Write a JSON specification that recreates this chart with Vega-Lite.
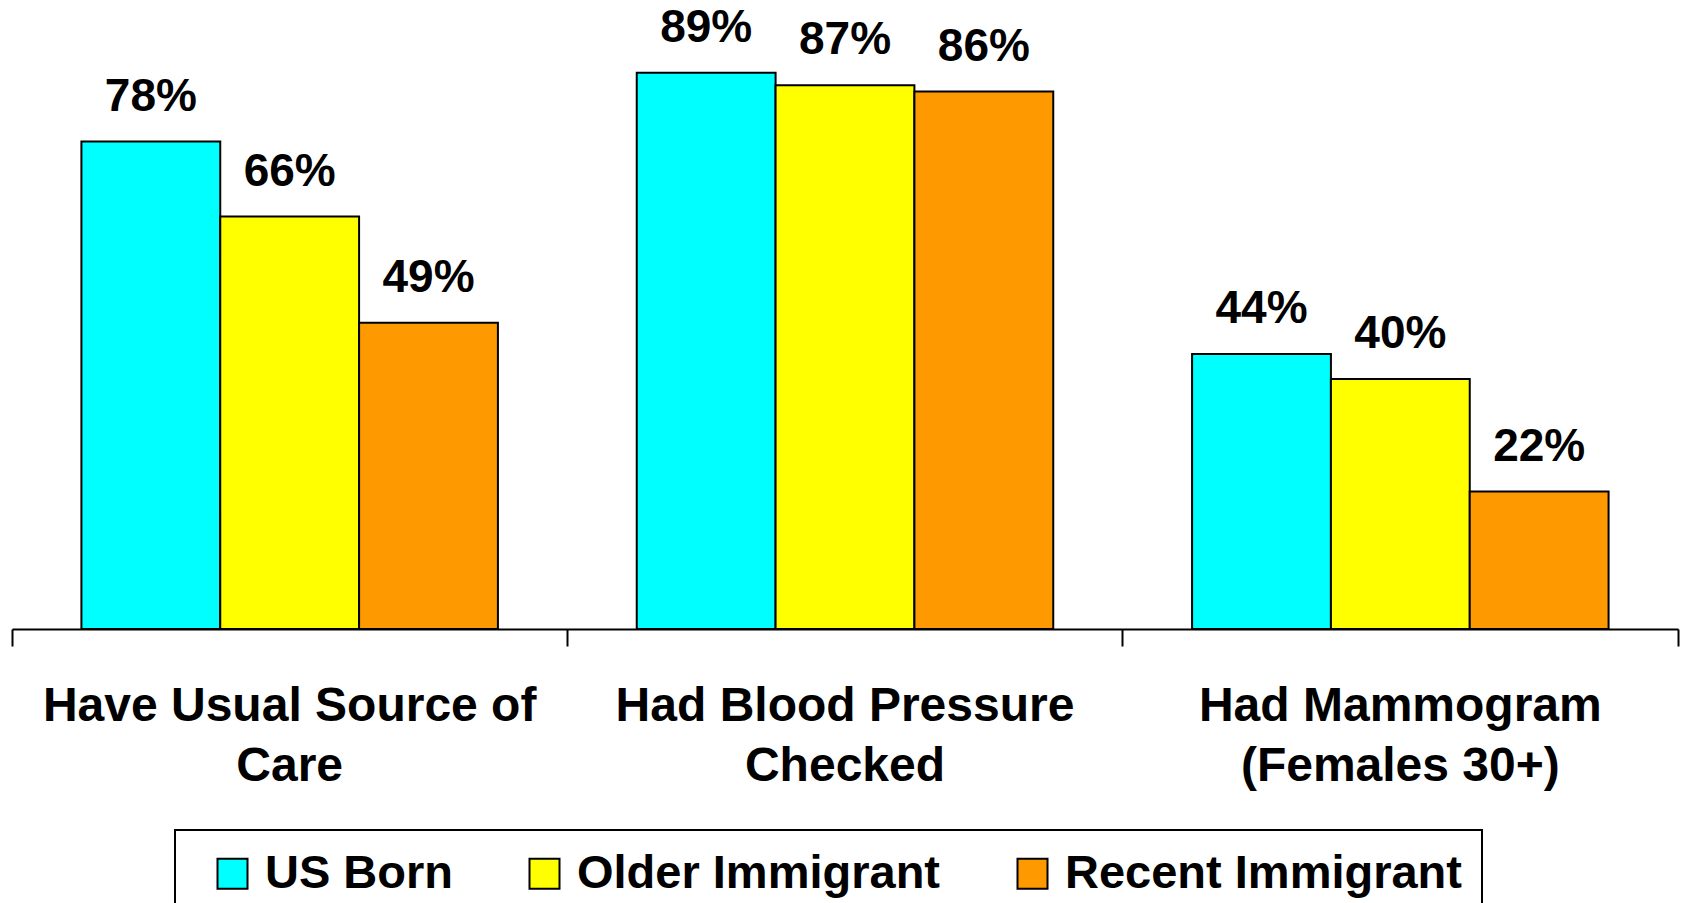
{
  "$schema": "https://vega.github.io/schema/vega-lite/v6.json",
  "autosize": "none",
  "padding": {"left": 12, "top": 4, "right": 5, "bottom": 274},
  "width": 1666,
  "height": 625,
  "background": "white",
  "config": {"view": {"stroke": null}, "font": "Liberation Sans", "legend": {"strokeWidth": 2}},
  "data": {"values": [
    {"category": "Have Usual Source of|Care", "group": "US Born", "value": 78, "label": "78%"},
    {"category": "Have Usual Source of|Care", "group": "Older Immigrant", "value": 66, "label": "66%"},
    {"category": "Have Usual Source of|Care", "group": "Recent Immigrant", "value": 49, "label": "49%"},
    {"category": "Had Blood Pressure|Checked", "group": "US Born", "value": 89, "label": "89%"},
    {"category": "Had Blood Pressure|Checked", "group": "Older Immigrant", "value": 87, "label": "87%"},
    {"category": "Had Blood Pressure|Checked", "group": "Recent Immigrant", "value": 86, "label": "86%"},
    {"category": "Had Mammogram|(Females 30+)", "group": "US Born", "value": 44, "label": "44%"},
    {"category": "Had Mammogram|(Females 30+)", "group": "Older Immigrant", "value": 40, "label": "40%"},
    {"category": "Had Mammogram|(Females 30+)", "group": "Recent Immigrant", "value": 22, "label": "22%"}
  ]},
  "encoding": {
    "x": {
      "field": "category", "type": "nominal", "sort": null,
      "scale": {"paddingInner": 0, "paddingOuter": 0},
      "axis": {
        "title": null, "labelAngle": 0, "bandPosition": 1, "tickExtra": true,
        "tickSize": 17, "tickWidth": 2, "tickColor": "black",
        "domainColor": "black", "domainWidth": 2,
        "labelFontSize": 48, "labelFontWeight": "bold", "labelColor": "black",
        "labelFont": "Liberation Sans",
        "labelLineHeight": 60, "labelPadding": 36, "labelLimit": 0,
        "labelOverlap": false, "labelBound": false, "labelFlush": false,
        "labelExpr": "split(datum.label, '|')"
      }
    },
    "xOffset": {
      "field": "group", "type": "nominal", "sort": ["US Born", "Older Immigrant", "Recent Immigrant"],
      "scale": {"paddingInner": 0, "paddingOuter": 0.5}
    },
    "y": {
      "field": "value", "type": "quantitative",
      "scale": {"domain": [0, 100], "nice": false},
      "axis": null
    }
  },
  "layer": [
    {
      "mark": {"type": "bar", "stroke": "black", "strokeWidth": 2},
      "encoding": {
        "fill": {
          "field": "group", "type": "nominal",
          "sort": ["US Born", "Older Immigrant", "Recent Immigrant"],
          "scale": {"domain": ["US Born", "Older Immigrant", "Recent Immigrant"], "range": ["#00FFFF", "#FFFF00", "#FF9900"]},
          "legend": {
            "title": " ", "titleOrient": "left", "titlePadding": 14, "titleFontSize": 1,
            "orient": "none", "legendX": 163, "legendY": 826,
            "direction": "horizontal", "columns": 3,
            "strokeColor": "black", "fillColor": "white",
            "padding": 20, "columnPadding": 68,
            "symbolType": "square", "symbolSize": 900, "symbolStrokeColor": "black",
            "symbolStrokeWidth": 2, "symbolOpacity": 1,
            "labelFontSize": 47, "labelFontWeight": "bold", "labelColor": "black",
            "labelFont": "Liberation Sans", "labelLimit": 0, "labelOffset": 9,
            "labelExpr": "datum.label == 'Recent Immigrant' ? datum.label + '\u00a0' : datum.label"
          }
        }
      }
    },
    {
      "mark": {"type": "text", "dy": -31, "baseline": "alphabetic", "fontSize": 46, "fontWeight": "bold", "color": "black", "font": "Liberation Sans"},
      "encoding": {
        "text": {"field": "label", "type": "nominal"}
      }
    }
  ]
}
